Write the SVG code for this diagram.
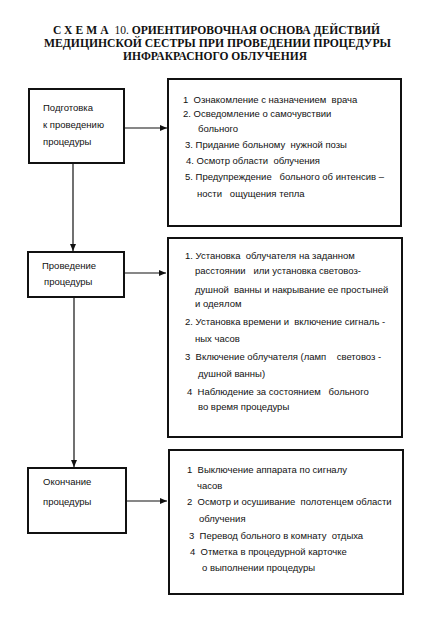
<svg xmlns="http://www.w3.org/2000/svg" width="427" height="638" viewBox="0 0 427 638">
<style>
.title{font-family:"Liberation Serif",serif;font-weight:bold;font-size:11.5px;fill:#111}
.t{font-family:"Liberation Sans",Arial,sans-serif;font-size:9.5px;fill:#111;white-space:pre}
.box{fill:#fff;stroke:#111;stroke-width:2}
.con{stroke:#111;stroke-width:1.2;fill:none}
</style>
<defs>
<marker id="ah" markerWidth="8" markerHeight="6" refX="7" refY="3" orient="auto" markerUnits="userSpaceOnUse">
<path d="M0,0 L7,3 L0,6 Z" fill="#111"/>
</marker>
</defs>
<rect width="427" height="638" fill="#fff"/>
<g id="title">
<text class="title" x="53" y="34" textLength="327" lengthAdjust="spacingAndGlyphs"><tspan letter-spacing="3">СХЕМА</tspan> <tspan font-weight="normal">10.</tspan> ОРИЕНТИРОВОЧНАЯ ОСНОВА ДЕЙСТВИЙ</text>
<text class="title" x="44" y="47" textLength="347" lengthAdjust="spacingAndGlyphs">МЕДИЦИНСКОЙ СЕСТРЫ ПРИ ПРОВЕДЕНИИ ПРОЦЕДУРЫ</text>
<text class="title" x="123" y="60" textLength="184" lengthAdjust="spacingAndGlyphs">ИНФРАКРАСНОГО ОБЛУЧЕНИЯ</text>
</g>
<g id="connectors">
<line class="con" x1="124" y1="128" x2="167" y2="128" marker-end="url(#ah)"/>
<line class="con" x1="73" y1="163" x2="73" y2="251" marker-end="url(#ah)"/>
<line class="con" x1="124" y1="273" x2="166" y2="273" marker-end="url(#ah)"/>
<line class="con" x1="74" y1="297" x2="74" y2="467" marker-end="url(#ah)"/>
<line class="con" x1="126" y1="501" x2="167" y2="501" marker-end="url(#ah)"/>
</g>
<g id="prep">
<rect class="box" x="29" y="89" width="95" height="74"/>
<text class="t" x="43" y="111">Подготовка</text>
<text class="t" x="43" y="128">к проведению</text>
<text class="t" x="43" y="145">процедуры</text>
</g>
<g id="prep-steps">
<rect class="box" x="168" y="79" width="233" height="147"/>
<text class="t" x="183" y="103">1  Ознакомление с назначением  врача</text>
<text class="t" x="183" y="117">2. Осведомление о самочувствии</text>
<text class="t" x="198" y="132">больного</text>
<text class="t" x="185" y="148">3. Придание больному  нужной позы</text>
<text class="t" x="186" y="164">4. Осмотр области  облучения</text>
<text class="t" x="185" y="180">5. Предупреждение   больного об интенсив –</text>
<text class="t" x="197" y="197">ности   ощущения тепла</text>
</g>
<g id="proc">
<rect class="box" x="28" y="252" width="96" height="45"/>
<text class="t" x="42" y="269">Проведение</text>
<text class="t" x="44" y="285">процедуры</text>
</g>
<g id="proc-steps">
<rect class="box" x="168" y="238" width="234" height="199"/>
<text class="t" x="185" y="259">1. Установка  облучателя на заданном</text>
<text class="t" x="195" y="274">расстоянии   или установка световоз-</text>
<text class="t" x="195" y="293">душной  ванны и накрывание ее простыней</text>
<text class="t" x="195" y="307">и одеялом</text>
<text class="t" x="185" y="325">2. Установка времени и  включение сигналь -</text>
<text class="t" x="195" y="342">ных часов</text>
<text class="t" x="185" y="360">3  Включение облучателя (ламп    световоз -</text>
<text class="t" x="198" y="377">душной ванны)</text>
<text class="t" x="187" y="395">4  Наблюдение за состоянием   больного</text>
<text class="t" x="198" y="410">во время процедуры</text>
</g>
<g id="end">
<rect class="box" x="28" y="468" width="98" height="65"/>
<text class="t" x="43" y="485">Окончание</text>
<text class="t" x="43" y="505">процедуры</text>
</g>
<g id="end-steps">
<rect class="box" x="169" y="450" width="234" height="144"/>
<text class="t" x="187" y="473">1  Выключение аппарата по сигналу</text>
<text class="t" x="197" y="489">часов</text>
<text class="t" x="187" y="505">2  Осмотр и осушивание  полотенцем области</text>
<text class="t" x="199" y="522">облучения</text>
<text class="t" x="189" y="539">3  Перевод больного в комнату  отдыха</text>
<text class="t" x="190" y="555">4  Отметка в процедурной карточке</text>
<text class="t" x="202" y="571">о выполнении процедуры</text>
</g>
</svg>
